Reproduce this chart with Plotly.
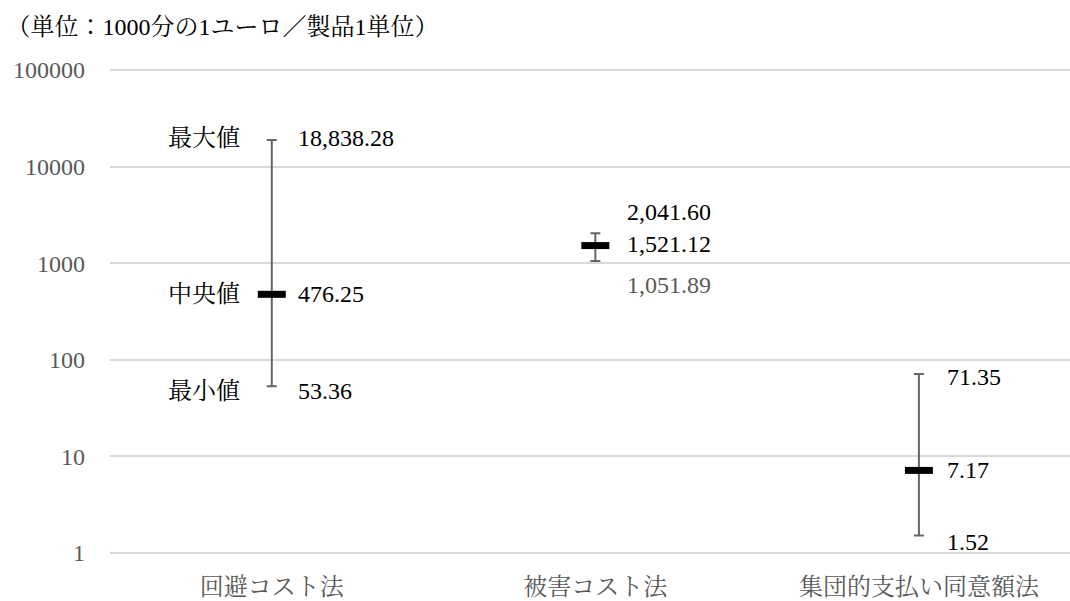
import math
import plotly.graph_objects as go

categories = ["回避コスト法", "被害コスト法", "集団的支払い同意額法"]
min_vals = [53.36, 1051.89, 1.52]
median_vals = [476.25, 1521.12, 7.17]
max_vals = [18838.28, 2041.60, 71.35]
tick_vals = [1, 10, 100, 1000, 10000, 100000]
tick_text = ["1", "10", "100", "1000", "10000", "100000"]
unit_title = "（単位：1000分の1ユーロ／製品1単位）"
stat_names = ["最大値", "中央値", "最小値"]

FONT = "Liberation Serif, 'Noto Serif CJK JP', 'Noto Sans CJK JP', serif"
GRAY = "#595959"

fig = go.Figure()
fig.add_trace(go.Scatter(
    x=categories, y=median_vals, mode="markers",
    marker=dict(symbol="line-ew", size=20, color="black",
                line=dict(width=7, color="black")),
    error_y=dict(type="data", symmetric=False,
                 array=[mx - md for mx, md in zip(max_vals, median_vals)],
                 arrayminus=[md - mn for md, mn in zip(median_vals, min_vals)],
                 color="#666666", thickness=2, width=5),
    showlegend=False, hoverinfo="skip",
))

def fmt(v):
    return f"{v:,.2f}"

ann = []
label_cfg = [
    # (cat index, value, yshift, color)
    (0, max_vals[0], 2, "black"), (0, median_vals[0], 0, "black"), (0, min_vals[0], -5, "black"),
    (1, max_vals[1], 21, "black"), (1, median_vals[1], 2, "black"), (1, min_vals[1], -24, GRAY),
    (2, max_vals[2], -3, "black"), (2, median_vals[2], 0, "black"), (2, min_vals[2], -6, "black"),
]
xshifts = [24, 30, 26]
for ci, v, ys, col in label_cfg:
    ann.append(dict(x=categories[ci], y=math.log10(v), yref="y", text=fmt(v), showarrow=False,
                    xanchor="left", yanchor="middle", xshift=xshifts[ci], yshift=ys,
                    font=dict(family=FONT, size=24, color=col)))
for name, v, ys in zip(stat_names, [max_vals[0], median_vals[0], min_vals[0]], [2, 0, -5]):
    ann.append(dict(x=categories[0], y=math.log10(v), yref="y", text=name, showarrow=False,
                    xanchor="right", yanchor="middle", xshift=-30, yshift=ys,
                    font=dict(family=FONT, size=24, color="black")))

fig.update_layout(
    width=1070, height=601,
    margin=dict(l=110, r=0, t=68, b=46),
    paper_bgcolor="white", plot_bgcolor="white",
    font=dict(family=FONT, size=24, color=GRAY),
    title=dict(text=unit_title, x=0.006, xanchor="left", y=0.956, yanchor="middle",
               font=dict(family=FONT, size=24, color="black")),
    annotations=ann,
    xaxis=dict(type="category", range=[-0.5, 2.467], showgrid=False, showline=False,
               zeroline=False, ticks="", ticklabelstandoff=15, automargin=False,
               tickfont=dict(family=FONT, size=24, color=GRAY)),
    yaxis=dict(type="log", range=[-0.02, 5.02], tickvals=tick_vals, ticktext=tick_text,
               showgrid=True, gridcolor="#d9d9d9", gridwidth=2, zeroline=False,
               showline=False, ticks="", ticklabelstandoff=24, automargin=False,
               tickfont=dict(family=FONT, size=24, color=GRAY)),
)

fig.write_html("out.html")
